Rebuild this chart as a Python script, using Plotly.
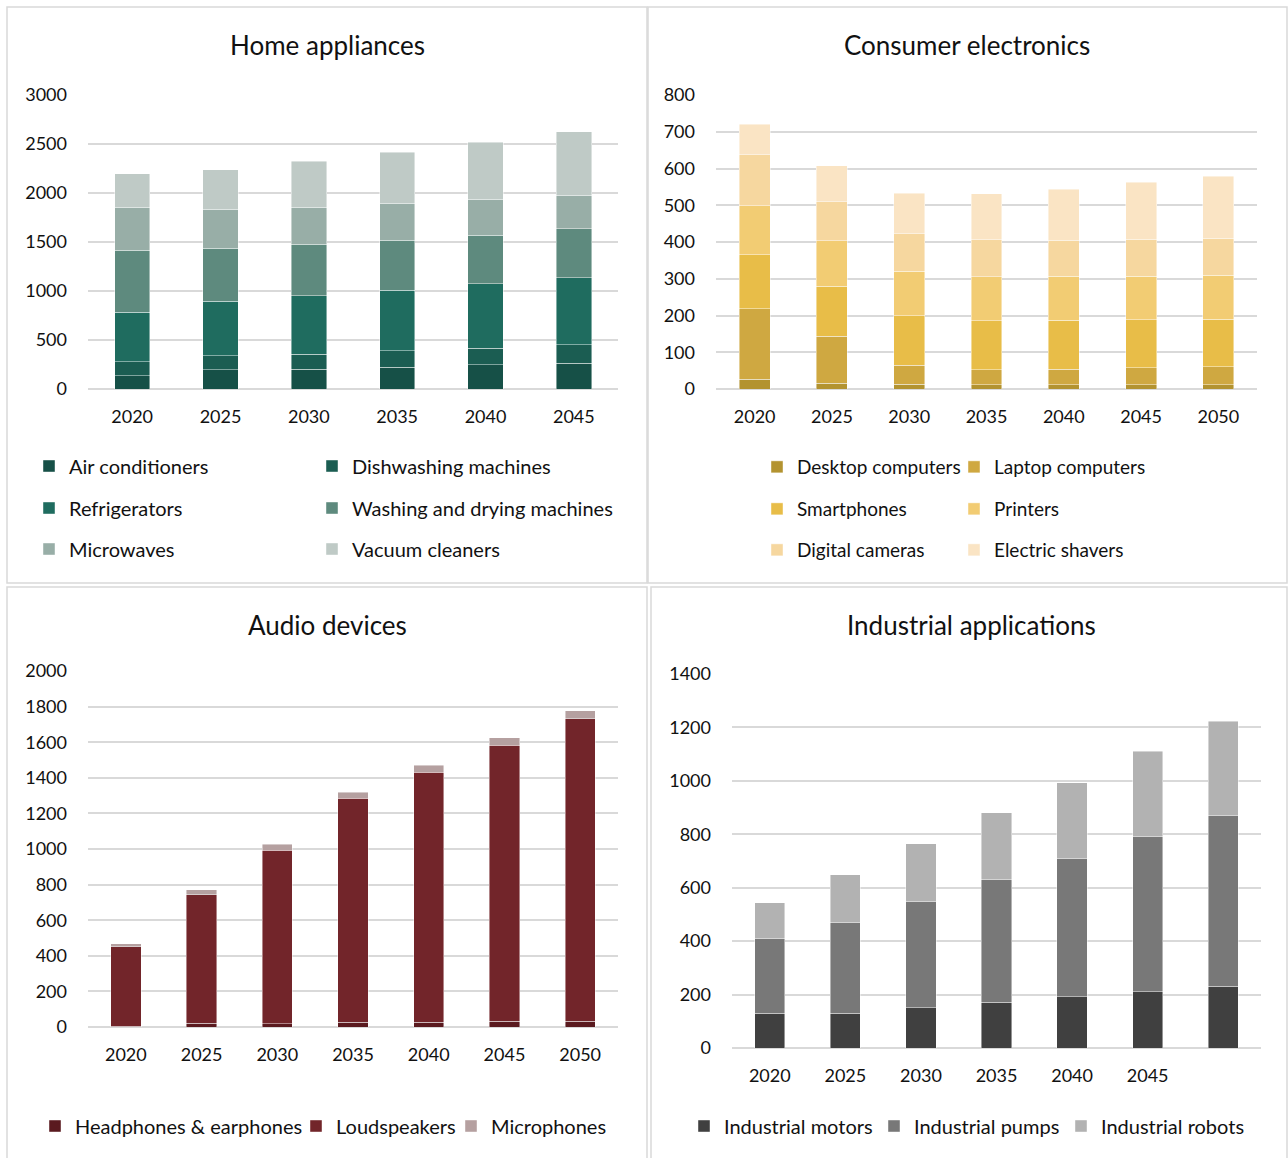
import plotly.graph_objects as go

W, H = 1288, 1158

# ---------------- DATA ----------------
home_years = ["2020", "2025", "2030", "2035", "2040", "2045"]
home_series = ["Air conditioners", "Dishwashing machines", "Refrigerators",
               "Washing and drying machines", "Microwaves", "Vacuum cleaners"]
air_conditioners = [136, 197, 204, 224, 245, 262]
dishwashing = [143, 140, 153, 167, 173, 190]
refrigerators = [506, 561, 595, 619, 656, 684]
washing_drying = [629, 540, 527, 510, 493, 499]
microwaves = [443, 398, 377, 377, 371, 344]
vacuum_cleaners = [340, 401, 466, 520, 581, 646]

cons_years = ["2020", "2025", "2030", "2035", "2040", "2045", "2050"]
cons_series = ["Desktop computers", "Laptop computers", "Smartphones",
               "Printers", "Digital cameras", "Electric shavers"]
desktop = [27, 16, 13, 11, 11, 11, 11]
laptop = [191, 127, 52, 42, 43, 47, 50]
smartphones = [147, 137, 134, 133, 133, 131, 129]
printers = [133, 124, 122, 119, 120, 118, 119]
cameras = [140, 106, 101, 101, 98, 100, 101]
shavers = [82, 97, 110, 125, 139, 155, 169]

audio_years = ["2020", "2025", "2030", "2035", "2040", "2045", "2050"]
audio_series = ["Headphones & earphones", "Loudspeakers", "Microphones"]
headphones = [5, 22, 17, 26, 26, 32, 32]
loudspeakers = [447, 722, 977, 1258, 1405, 1551, 1699]
microphones = [15, 27, 32, 34, 39, 41, 47]

ind_years = ["2020", "2025", "2030", "2035", "2040", "2045", "2050"]
ind_ticktext = ["2020", "2025", "2030", "2035", "2040", "2045", ""]
ind_series = ["Industrial motors", "Industrial pumps", "Industrial robots"]
motors = [131, 131, 150, 172, 191, 210, 232]
pumps = [278, 338, 400, 457, 520, 581, 638]
robots = [135, 180, 214, 251, 282, 319, 354]

# ---------------- STYLE ----------------
FONT = "Lato"
home_colors = ["#165047", "#1b5d52", "#1f6c5f", "#5e8a7e", "#98aea7", "#bfcac6"]
cons_colors = ["#b39330", "#cfa841", "#e8bd48", "#f2cc73", "#f6d79f", "#fae4c4"]
audio_colors = ["#5a1a1f", "#72252a", "#b5a0a0"]
ind_colors = ["#404040", "#787878", "#b2b2b2"]


def px(x):
    return x / W


def py(y):
    return 1 - y / H


fig = go.Figure()


def add(x, y, name, color, axis, legend, lw):
    fig.add_trace(go.Bar(
        x=x, y=y, name=name, marker=dict(color=color, line=dict(color="rgba(255,255,255,0.55)", width=0.8)),
        xaxis="x" + axis, yaxis="y" + axis, legend=legend, legendwidth=lw,
        hoverinfo="x+y+name"))


home_vals = [air_conditioners, dishwashing, refrigerators, washing_drying, microwaves, vacuum_cleaners]
home_leg = ["legend", "legend", "legend2", "legend2", "legend3", "legend3"]
home_lw = [238, 300, 238, 300, 238, 300]
for s, v, c, lg, lw in zip(home_series, home_vals, home_colors, home_leg, home_lw):
    add(home_years, v, s, c, "", lg, lw)

cons_vals = [desktop, laptop, smartphones, printers, cameras, shavers]
cons_leg = ["legend4", "legend4", "legend5", "legend5", "legend6", "legend6"]
cons_lw = [152, 250, 152, 250, 152, 250]
for s, v, c, lg, lw in zip(cons_series, cons_vals, cons_colors, cons_leg, cons_lw):
    add(cons_years, v, s, c, "2", lg, lw)

audio_vals = [headphones, loudspeakers, microphones]
audio_lw = [216, 110, 200]
for s, v, c, lw in zip(audio_series, audio_vals, audio_colors, audio_lw):
    add(audio_years, v, s, c, "3", "legend7", lw)

ind_vals = [motors, pumps, robots]
ind_lw = [145, 142, 200]
for s, v, c, lw in zip(ind_series, ind_vals, ind_colors, ind_lw):
    add(ind_years, v, s, c, "4", "legend8", lw)

tick_font = dict(family=FONT, size=18, color="#111111")


def xaxis(x0, x1, anchor, **kw):
    return dict(domain=[px(x0), px(x1)], anchor=anchor, type="category",
                showgrid=False, showline=False, zeroline=False, ticks="",
                automargin=False,
                tickfont=tick_font, ticklabelstandoff=15, **kw)


def yaxis(y0, y1, rng, dt, anchor):
    return dict(domain=[py(y0), py(y1)], anchor=anchor, range=rng, dtick=dt,
                showgrid=True, gridcolor="#d9d9d9", gridwidth=1.5,
                zeroline=True, zerolinecolor="#d9d9d9", zerolinewidth=1.5,
                automargin=False,
                showline=False, ticks="", tickfont=tick_font, ticklabelstandoff=20)


layout = dict(
    width=W, height=H, margin=dict(l=0, r=0, t=0, b=0, autoexpand=False),
    paper_bgcolor="white", plot_bgcolor="white",
    barmode="stack", bargap=0.6,
    font=dict(family=FONT, color="#111111"),
    xaxis=xaxis(88, 618, "y"),
    yaxis=yaxis(389, 95, [0, 3000], 500, "x"),
    xaxis2=xaxis(716, 1257, "y2"),
    yaxis2=yaxis(389, 95, [0, 800], 100, "x2"),
    xaxis3=xaxis(88, 618, "y3"),
    yaxis3=yaxis(1027, 671, [0, 2000], 200, "x3"),
    xaxis4=xaxis(732, 1261, "y4", tickmode="array", tickvals=ind_years, ticktext=ind_ticktext),
    yaxis4=yaxis(1048, 674, [0, 1400], 200, "x4"),
)


def legend(x, y, size=20):
    return dict(orientation="h", x=px(x), y=py(y), xanchor="left", yanchor="middle",
                font=dict(family=FONT, size=size, color="#111111"), bgcolor="rgba(0,0,0,0)",
                traceorder="normal", itemclick=False, itemdoubleclick=False)


layout["legend"] = legend(29, 466)
layout["legend2"] = legend(29, 508)
layout["legend3"] = legend(29, 549)
layout["legend4"] = legend(757, 467, 19)
layout["legend5"] = legend(757, 509, 19)
layout["legend6"] = legend(757, 550, 19)
layout["legend7"] = legend(35, 1126)
layout["legend8"] = legend(684, 1126)

fig.update_layout(**layout)

titles = [("Home appliances", 327, 45), ("Consumer electronics", 967, 45),
          ("Audio devices", 327, 625), ("Industrial applications", 971, 625)]
for t, x, y in titles:
    fig.add_annotation(text=t, x=px(x), y=py(y), xref="paper", yref="paper",
                       showarrow=False, xanchor="center", yanchor="middle",
                       font=dict(family=FONT, size=26, color="#111111"))

boxes = [(7, 7, 647, 583), (648, 7, 1287, 583), (7, 587, 647, 1162), (651, 587, 1287, 1162)]
for x0, y0, x1, y1 in boxes:
    fig.add_shape(type="rect", xref="paper", yref="paper",
                  x0=px(x0), x1=px(x1), y0=py(y0), y1=py(y1),
                  line=dict(color="#d9d9d9", width=1.5), fillcolor="rgba(0,0,0,0)", layer="below")

fig.write_html("out.html")
